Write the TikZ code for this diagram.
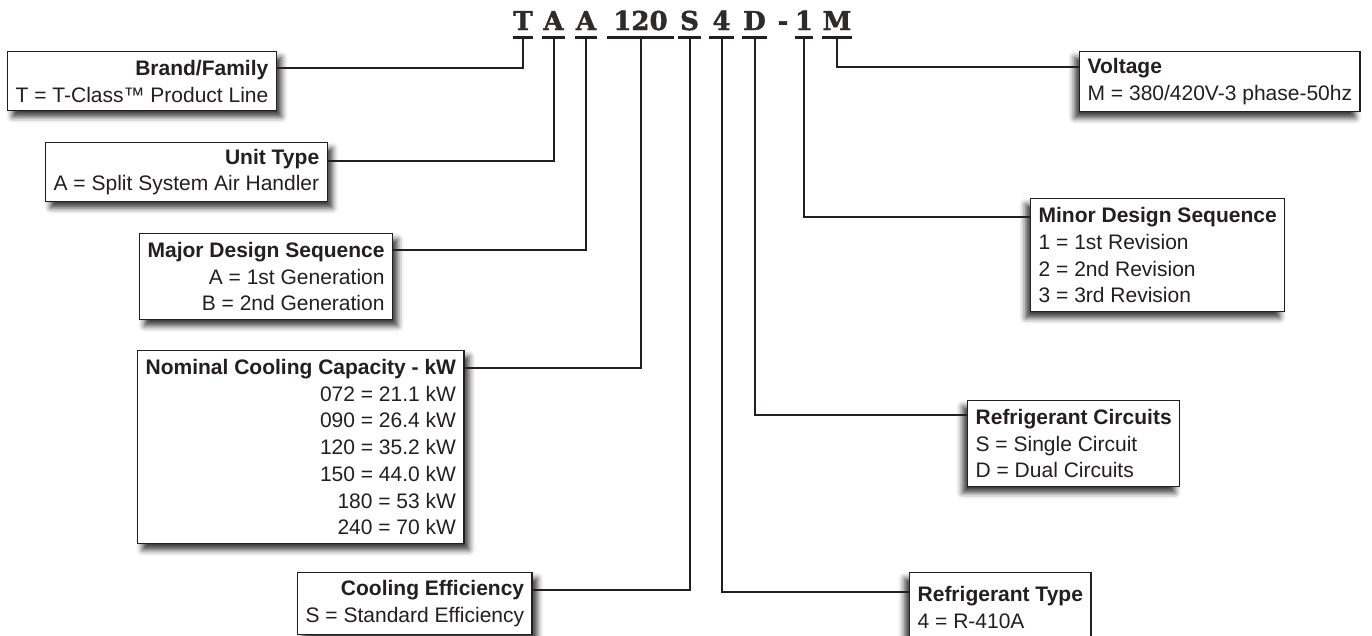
\documentclass[tikz,border=0pt]{standalone}
\usepackage{fontspec}
\setmainfont{Liberation Sans}
\newfontfamily\codefont{DejaVu Serif}[BoldFeatures={FakeBold=1.6}]
\usetikzlibrary{shadows.blur}
\definecolor{ink}{HTML}{231F20}
\definecolor{letterink}{HTML}{2E2B2B}
\tikzset{
  keybox/.style={draw=ink, line width=1.3pt, fill=white, anchor=north west,
    inner xsep=8pt, inner ysep=0pt, text=ink,
    font=\fontsize{21}{26.7}\selectfont},
  leftbox/.style={keybox, align=right,
    blur shadow={shadow xshift=5pt, shadow yshift=-6pt, shadow blur radius=6pt, shadow opacity=80}},
  rightbox/.style={keybox, align=left,
    blur shadow={shadow xshift=-5pt, shadow yshift=-6pt, shadow blur radius=6pt, shadow opacity=80}},
  codeletter/.style={font=\codefont\bfseries\fontsize{26}{26}\selectfont, text=letterink,
    inner xsep=0pt, inner ysep=7pt, text height=18pt, text depth=0pt, anchor=base},
  uline/.style={draw=ink, line width=2.6pt},
  link/.style={draw=ink, line width=2pt}
}

\begin{document}
\begin{tikzpicture}[x=1pt, y=-1pt]
  \useasboundingbox (0,0) rectangle (1372,635);

  % model number, one node per position
  \foreach \name/\txt/\cx/\w in {cT/T/523/20, cA/A/553.5/23, cB/A/586/22, cNum/120/640.5/66,
      cS/S/689.5/23, cFour/4/721.5/25, cD/D/754.5/25, cDash/-/783/0, cOne/1/804/18, cM/M/837/28}
    \node[codeletter, minimum width=\w pt] (\name) at (\cx,30) {\txt};
  \foreach \name in {cT,cA,cB,cNum,cS,cFour,cD,cOne,cM}
    \draw[uline] (\name.south west) -- (\name.south east);

  % left column
  \node[leftbox, minimum height=59pt] (brand) at (7,51)
    {\textbf{Brand/Family}\\T = T-Class™ Product Line};
  \node[leftbox, minimum height=59pt] (unit) at (45,142)
    {\textbf{Unit Type}\\A = Split System Air Handler};
  \node[leftbox, minimum height=86pt] (major) at (139,233)
    {\textbf{Major Design Sequence}\\A = 1st Generation\\B = 2nd Generation};
  \node[leftbox, minimum height=193pt] (nominal) at (137,350)
    {\textbf{Nominal Cooling Capacity - kW}\\072 = 21.1 kW\\090 = 26.4 kW\\120 = 35.2 kW\\150 = 44.0 kW\\180 = 53 kW\\240 = 70 kW};
  \node[leftbox, minimum height=62pt] (cooling) at (297,572)
    {\textbf{Cooling Efficiency}\\S = Standard Efficiency};

  % right column
  \node[rightbox, minimum height=60pt] (voltage) at (1079,51)
    {\textbf{Voltage}\\M = 380/420V-3 phase-50hz};
  \node[rightbox, minimum height=113pt] (minor) at (1030,198)
    {\textbf{Minor Design Sequence}\\1 = 1st Revision\\2 = 2nd Revision\\3 = 3rd Revision};
  \node[rightbox, minimum height=86pt] (circuits) at (967,400)
    {\textbf{Refrigerant Circuits}\\S = Single Circuit\\D = Dual Circuits};
  \node[rightbox, minimum height=70pt] (reftype) at (909,572)
    {\textbf{Refrigerant Type}\\4 = R-410A};

  % leaders
  \draw[link] (cT.south) |- ([yshift=-17pt]brand.north east);
  \draw[link] (cA.south) |- ([yshift=-19pt]unit.north east);
  \draw[link] (cB.south) |- ([yshift=-17pt]major.north east);
  \draw[link] (cNum.south) |- ([yshift=-18pt]nominal.north east);
  \draw[link] (cS.south) |- ([yshift=-18pt]cooling.north east);
  \draw[link] (cFour.south) |- ([yshift=-20pt]reftype.north west);
  \draw[link] (cD.south) |- ([yshift=-15pt]circuits.north west);
  \draw[link] (cOne.south) |- ([yshift=-19pt]minor.north west);
  \draw[link] (cM.south) |- ([yshift=-16pt]voltage.north west);
\end{tikzpicture}
\end{document}
